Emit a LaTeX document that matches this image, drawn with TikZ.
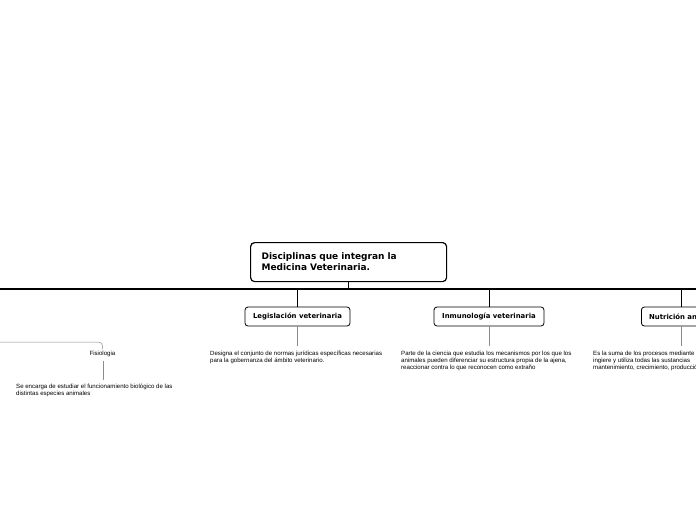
\documentclass[tikz,border=0pt]{standalone}
\usepackage{fontspec}
\setmainfont{DejaVu Sans}
\newfontfamily\descfont{Liberation Sans}
\usetikzlibrary{positioning}

\tikzset{
  tema/.style={draw=black, line width=1.2pt, rounded corners=4pt, fill=white,
    minimum width=196pt, minimum height=39pt, align=left, text width=174pt,
    inner xsep=11pt, font=\fontsize{9}{11}\selectfont\bfseries},
  rama/.style={draw=black, line width=0.8pt, rounded corners=3pt, fill=white,
    minimum height=19pt, inner xsep=4pt, font=\fontsize{6.9}{8}\selectfont\bfseries},
  desc/.style={align=left, inner sep=0pt, font=\descfont\fontsize{6.1}{7}\selectfont},
  enlace/.style={draw=black!45, line width=0.5pt},
}

\begin{document}
\begin{tikzpicture}[x=1pt, y=-1pt]
  \useasboundingbox (0,0) rectangle (696,520);
  \clip (0,0) rectangle (696,520);

  % Tema central
  \node[tema, anchor=north west] (central) at (250,242)
    {Disciplinas que integran la\\Medicina Veterinaria.};

  % Linea principal
  \coordinate (busL) at (0,289);
  \coordinate (busR) at (696,289);
  \coordinate (busC) at (central.south |- busL);
  \draw[line width=1.2pt] (busL) -- (busR);
  \draw[line width=1.2pt] (central.south) -- (busC);

  % Ramas
  \node[rama, minimum width=105pt] (legis) at (297.5,316.5) {Legislación veterinaria};
  \node[rama, minimum width=110pt] (inmuno) at (489,316.5) {Inmunología veterinaria};
  \node[rama, minimum width=80pt, anchor=west] (nutri) at (641,316.5) {Nutrición animal};
  \foreach \r in {legis,inmuno}
    \draw[line width=0.8pt] (\r.north |- busL) -- (\r.north);
  \coordinate (nutriT) at (681,289);
  \draw[line width=0.8pt] (nutriT) -- (nutriT |- nutri.north);

  % Descripciones
  \node[desc, anchor=north west] (legisD) at (210,350.5)
    {Designa el conjunto de normas jurídicas específicas necesarias\\para la gobernanza del ámbito veterinario.};
  \node[desc, anchor=north west] (inmunoD) at (401,350.5)
    {Parte de la ciencia que estudia los mecanismos por los que los\\animales pueden diferenciar su estructura propia de la ajena,\\reaccionar contra lo que reconocen como extraño};
  \node[desc, anchor=north west] (nutriD) at (593,350.5)
    {Es la suma de los procesos mediante\\ingiere y utiliza todas las sustancias\\mantenimiento, crecimiento, producción};
  \foreach \r in {legis,inmuno}
    \draw[enlace] (\r.south) -- ++(0,20);
  \draw[enlace] (nutriT |- nutri.south) -- ++(0,20);

  % Fisiologia
  \node[desc] (fisio) at (102.5,354) {Fisiologia};
  \coordinate (fisioL) at (0,342);
  \draw[enlace, rounded corners=4pt] (fisioL) -| ([yshift=1.5pt]fisio.north);
  \coordinate (fisioB) at (103,380);
  \draw[enlace] ([yshift=-4pt]fisio.south -| fisioB) -- (fisioB);
  \node[desc, anchor=north west] (fisioD) at (16,383.5)
    {Se encarga de estudiar el funcionamiento biológico de las\\distintas especies animales};
\end{tikzpicture}
\end{document}
